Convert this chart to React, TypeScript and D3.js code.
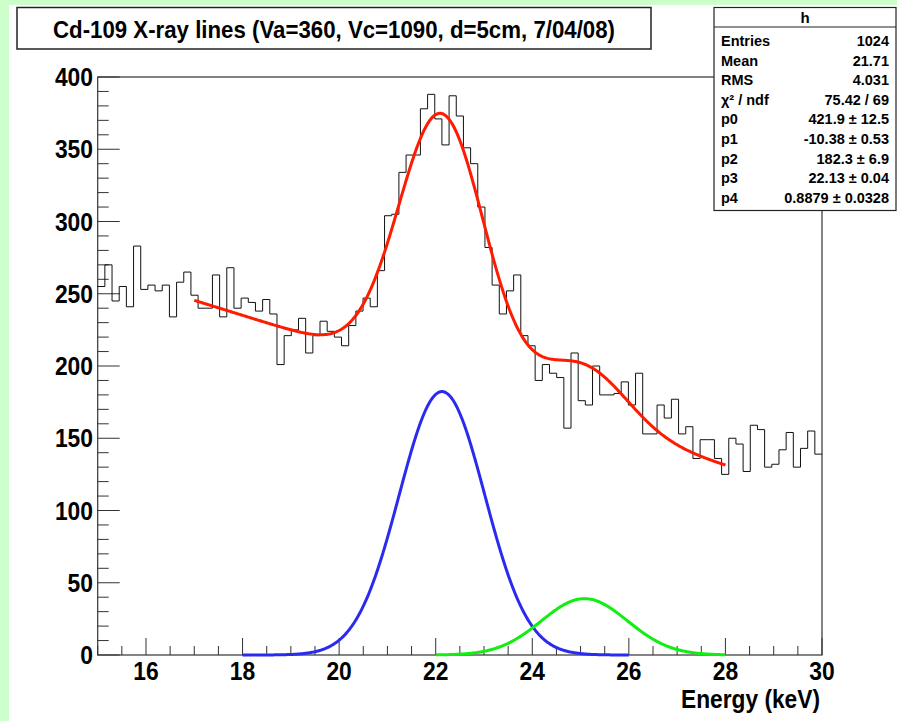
import React from 'react';
import * as d3 from 'd3';

const W = 897;
const H = 721;

// histogram "h": 101 equal bins between 15 and 30 keV
const binRange = [15, 30];
const counts = [
	255, 270, 245, 255, 241, 283, 253, 256, 252, 256,
	234, 258, 265, 249, 240, 240, 263, 234, 268, 240,
	247, 244, 238, 246, 236, 201, 221, 225, 233, 209,
	221, 231, 224, 220, 214, 228, 238, 247, 241, 266,
	304, 305, 334, 346, 346, 378, 388, 371, 353, 387,
	373, 351, 340, 310, 282, 256, 236, 252, 263, 221,
	214, 190, 201, 195, 192, 157, 209, 176, 173, 200,
	180, 180, 181, 189, 173, 195, 153, 153, 173, 164,
	177, 153, 158, 136, 149, 149, 136, 125, 150, 146,
	127, 159, 156, 130, 132, 142, 154, 130, 143, 155,
	139
];

const xTicks = [16, 18, 20, 22, 24, 26, 28, 30];
const yTicks = [0, 50, 100, 150, 200, 250, 300, 350, 400];

const title = 'Cd-109 X-ray lines (Va=360, Vc=1090, d=5cm, 7/04/08)';
const xTitle = 'Energy (keV)';

const statNames = ['Entries', 'Mean', 'RMS', 'χ² / ndf', 'p0', 'p1', 'p2', 'p3', 'p4'];
const statValues = ['1024', '21.71', '4.031', '75.42 / 69', '421.9 ± 12.5', '-10.38 ± 0.53', '182.3 ± 6.9', '22.13 ± 0.04', '0.8879 ± 0.0328'];

// fit: p0 + p1*x + p2*gaus(p3,p4) + second line
const p = [421.9, -10.38, 182.3, 22.13, 0.8879];
const peak2 = [39, 25.08, 0.89];
const redRange = [17, 28];
const blueRange = [18, 26];
const greenRange = [22, 28];

const gaus = (x, a, m, s) => a * Math.exp(-0.5 * ((x - m) / s) ** 2);

const font = 'Liberation Sans, Arial, Helvetica, sans-serif';

export default function App() {
	const x = d3.scaleLinear().domain([15, 30]).range([97.7, 822]);
	const y = d3.scaleLinear().domain([0, 400]).range([655, 77]);

	const nb = counts.length;
	const bw = (binRange[1] - binRange[0]) / nb;
	let hist = '';
	counts.forEach((c, i) => {
		const x0 = x(binRange[0] + i * bw);
		const x1 = x(binRange[0] + (i + 1) * bw);
		hist += (i === 0 ? `M${x0},${y(c)}` : `V${y(c)}`) + `H${x1}`;
	});

	const curve = (f, r) =>
		d3.line().x(d => x(d)).y(d => y(f(d)))(d3.range(r[0], r[1] + 0.001, 0.02));

	const blue = v => gaus(v, p[2], p[3], p[4]);
	const green = v => gaus(v, peak2[0], peak2[1], peak2[2]);
	const red = v => p[0] + p[1] * v + blue(v) + green(v);

	const yMinor = d3.range(0, 401, 10).filter(v => v % 50 !== 0);
	const xMinor = d3.range(15, 30.01, 0.5).filter(v => !xTicks.includes(v));

	return (
		<svg width={W} height={H} style={{ position: 'absolute', left: 0, top: 0 }} fontFamily={font}>
			<rect width={W} height={H} fill="#ccffcc" />
			<rect x={9} y={5} width={W - 9} height={H - 5} fill="#fff" />

			{/* title */}
			<rect x={17} y={7.5} width={634} height={41.5} fill="#fff" stroke="#222" strokeWidth={1.5} />
			<text x={334} y={37.5} fontSize={23} fontWeight="bold" textAnchor="middle"
				textLength={562} lengthAdjust="spacingAndGlyphs">{title}</text>

			{/* frame */}
			<rect x={x(15)} y={y(400)} width={x(30) - x(15)} height={y(0) - y(400)} fill="none" stroke="#333" strokeWidth={1.2} />

			{/* y axis */}
			{yTicks.map(t => (
				<g key={t}>
					<line x1={x(15)} x2={x(15) + 22} y1={y(t)} y2={y(t)} stroke="#333" />
					<text x={93} y={y(t) + 9} fontSize={25} fontWeight="bold" textAnchor="end"
						textLength={String(t).length * 12.7} lengthAdjust="spacingAndGlyphs">{t}</text>
				</g>
			))}
			{yMinor.map(t => (
				<line key={t} x1={x(15)} x2={x(15) + 11} y1={y(t)} y2={y(t)} stroke="#333" />
			))}

			{/* x axis */}
			{xTicks.map(t => (
				<g key={t}>
					<line x1={x(t)} x2={x(t)} y1={y(0)} y2={y(0) - 17} stroke="#333" />
					<text x={x(t)} y={680} fontSize={25} fontWeight="bold" textAnchor="middle"
						textLength={25.4} lengthAdjust="spacingAndGlyphs">{t}</text>
				</g>
			))}
			{xMinor.map(t => (
				<line key={t} x1={x(t)} x2={x(t)} y1={y(0)} y2={y(0) - 9} stroke="#333" />
			))}
			<text x={820} y={708} fontSize={25} fontWeight="bold" textAnchor="end"
				textLength={139} lengthAdjust="spacingAndGlyphs">{xTitle}</text>

			{/* histogram */}
			<path d={hist} fill="none" stroke="#111" strokeWidth={1} />

			{/* fit functions */}
			<path d={curve(blue, blueRange)} fill="none" stroke="#2b2bf0" strokeWidth={3} />
			<path d={curve(green, greenRange)} fill="none" stroke="#11ee11" strokeWidth={3} />
			<path d={curve(red, redRange)} fill="none" stroke="#ff1a00" strokeWidth={3} />

			{/* stats box */}
			<rect x={714} y={7.5} width={182} height={203} fill="#fff" stroke="#222" strokeWidth={1.2} />
			<line x1={714} x2={896} y1={27} y2={27} stroke="#222" strokeWidth={1.2} />
			<text x={805} y={23} fontSize={15} fontWeight="bold" textAnchor="middle">h</text>
			{statNames.map((n, i) => (
				<g key={n} fontSize={14.5} fontWeight="bold">
					<text x={721} y={46 + i * 19.6}>{n}</text>
					<text x={889} y={46 + i * 19.6} textAnchor="end">{statValues[i]}</text>
				</g>
			))}
		</svg>
	);
}
